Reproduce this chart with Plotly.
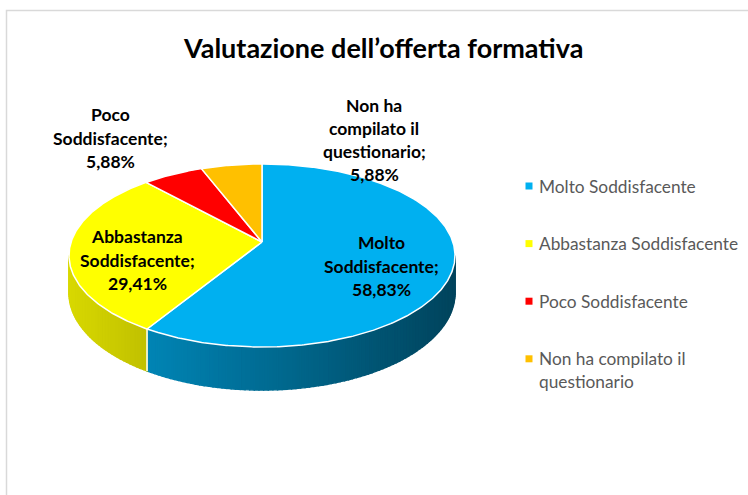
import numpy as np
import plotly.graph_objects as go

# ---------------- data ----------------
categories = ["Molto Soddisfacente", "Abbastanza Soddisfacente",
              "Poco Soddisfacente", "Non ha compilato il questionario"]
values = [58.83, 29.41, 5.88, 5.88]
label_lines = [["Molto", "Soddisfacente;"],
               ["Abbastanza", "Soddisfacente;"],
               ["Poco", "Soddisfacente;"],
               ["Non ha", "compilato il", "questionario;"]]
legend_lines = [["Molto Soddisfacente"],
                ["Abbastanza Soddisfacente"],
                ["Poco Soddisfacente"],
                ["Non ha compilato il", "questionario"]]

# ---------------- style / layout ----------------
colors = [(0, 176, 240), (255, 255, 0), (255, 0, 0), (255, 192, 0)]
W, H = 748, 495
CX, CY = 262, 242          # projected pie centre (px)
A, B, K = 190.9, 89.5, 0.1475   # perspective projection of the tilted disc
DEPTH = 36.7
FONT = "Lato"
label_pos = [(381, 266), (137, 260), (110, 138), (374, 140)]
label_step = 23.3
legend_x, legend_y0, legend_step, legend_line = 529, 186, 57.6, 23

def rgb(c, f=1.0):
    return "rgb(%d,%d,%d)" % tuple(int(round(min(255, x * f))) for x in c)

def proj(theta_deg, drop=0.0):
    t = np.radians(np.asarray(theta_deg, dtype=float))
    X, Z = np.sin(t), np.cos(t)
    den = 1 + K * Z
    return CX + A * X / den, CY - B * Z / den + drop / den

def shade(u):
    return float(np.clip(0.75 - 0.0012 * (u - 150), 0.3, 0.9))

total = sum(values)
bounds = np.concatenate([[0], np.cumsum(values) / total * 360])

fig = go.Figure()

# ---- side wall (front half only) ----
th_r = np.degrees(np.arccos(-K))
th_l = 360 - th_r
for i, c in enumerate(colors):
    s, e = max(bounds[i], th_r), min(bounds[i + 1], th_l)
    if e <= s:
        continue
    n = int(np.ceil((e - s) / 1.2))
    edges = np.linspace(s, e, n + 1)
    for a, b in zip(edges[:-1], edges[1:]):
        th = np.linspace(a, b, 4)
        ut, vt = proj(th)
        ub, vb = proj(th[::-1], DEPTH)
        xs = np.concatenate([ut, ub, ut[:1]])
        ys = np.concatenate([vt, vb, vt[:1]])
        col = rgb(c, shade(ut.mean()))
        fig.add_trace(go.Scatter(x=xs, y=ys, mode="lines", fill="toself",
                                 fillcolor=col, line=dict(color=col, width=1.4),
                                 hoverinfo="skip", showlegend=False))

# white edge on the side where slices meet
for bnd in bounds[1:-1]:
    if th_r < bnd < th_l:
        u0, v0 = proj(bnd)
        u1, v1 = proj(bnd, DEPTH)
        fig.add_trace(go.Scatter(x=[u0, u1], y=[v0, v1], mode="lines",
                                 line=dict(color="white", width=1.5),
                                 hoverinfo="skip", showlegend=False))

# ---- top face ----
for i, c in enumerate(colors):
    th = np.linspace(bounds[i], bounds[i + 1], max(3, int((bounds[i + 1] - bounds[i]) / 0.5)))
    u, v = proj(th)
    xs = np.concatenate([[CX], u, [CX]])
    ys = np.concatenate([[CY], v, [CY]])
    fig.add_trace(go.Scatter(x=xs, y=ys, mode="lines", fill="toself",
                             fillcolor=rgb(c), line=dict(color="white", width=1.5),
                             name=categories[i], hoverinfo="name", showlegend=False))

annotations = []
# ---- data labels ----
for i in range(len(values)):
    pct = ("%.2f%%" % values[i]).replace(".", ",")
    lines = label_lines[i] + [pct]
    x0, yc = label_pos[i]
    top = yc - label_step * (len(lines) - 1) / 2
    for j, t in enumerate(lines):
        annotations.append(dict(x=x0, y=top + j * label_step, xref="x", yref="y",
                                text="<b>%s</b>" % t, showarrow=False,
                                xanchor="center", yanchor="middle",
                                font=dict(family=FONT, size=17.5, color="black")))

# ---- legend ----
for i, c in enumerate(colors):
    y = legend_y0 + i * legend_step
    fig.add_trace(go.Scatter(x=[legend_x], y=[y], mode="markers",
                             marker=dict(symbol="square", size=7, color=rgb(c),
                                         line=dict(width=0)),
                             hoverinfo="skip", showlegend=False))
    for j, t in enumerate(legend_lines[i]):
        annotations.append(dict(x=legend_x + 8, y=y + j * legend_line, xref="x", yref="y",
                                text=t, showarrow=False, xanchor="left", yanchor="middle",
                                font=dict(family=FONT, size=17.3, color="#595959")))

# ---- title ----
annotations.append(dict(x=383, y=47, xref="x", yref="y",
                        text="<b>Valutazione dell’offerta formativa</b>", showarrow=False,
                        xanchor="center", yanchor="middle",
                        font=dict(family=FONT, size=27, color="black")))

fig.update_layout(
    width=W, height=H, margin=dict(l=0, r=0, t=0, b=0),
    paper_bgcolor="white", plot_bgcolor="white",
    xaxis=dict(range=[0, W], visible=False, fixedrange=True),
    yaxis=dict(range=[H, 0], visible=False, fixedrange=True),
    annotations=annotations,
    shapes=[dict(type="rect", xref="paper", yref="paper",
                 x0=6.5 / W, x1=1.2, y0=-0.2, y1=1 - 10.5 / H,
                 line=dict(color="#d9d9d9", width=1.5), fillcolor="rgba(0,0,0,0)")],
    showlegend=False,
)

fig.write_html("out.html", config={"displayModeBar": False},
               post_script="document.body.style.margin='0';")
